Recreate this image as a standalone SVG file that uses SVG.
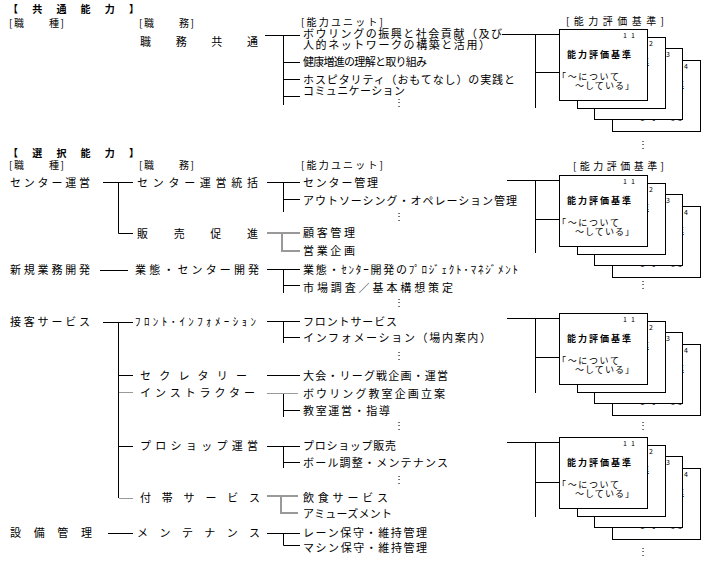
<svg xmlns="http://www.w3.org/2000/svg" xmlns:xlink="http://www.w3.org/1999/xlink" width="708" height="571" viewBox="0 0 708 571">
<style>
text{font-family:"Noto Sans CJK JP","Noto Sans CJK SC",sans-serif;font-size:11px;fill:#000}
.s{font-size:10px}
.h{font-size:10px;font-weight:bold}
.ct{font-size:9px}
.b{font-weight:bold}
.num{font-size:7px}
.dt{font-size:10px;text-anchor:middle}
.ln{stroke:#000;stroke-width:1;fill:none}
.g1{stroke:#999;stroke-width:1;fill:none}
.g2{stroke:#999;stroke-width:2;fill:none}
</style>
<defs>
<g id="card">
<rect x="0.5" y="0.5" width="88" height="71" fill="#fff" stroke="#000"/>
<text class="ct b" x="8" y="29" textLength="64">能力評価基準</text>
<text class="ct" x="-2" y="51" textLength="62">「～について</text>
<text class="ct" x="16" y="60" textLength="59">～している」</text>
</g>
</defs>
<rect width="708" height="571" fill="#fff"/>

<g id="headers">
<text class="h" x="8" y="13" textLength="131">【共通能力】</text>
<text class="s" x="9" y="27" textLength="55">[職　　種]</text>
<text class="s" x="139" y="27" textLength="55">[職　　務]</text>
<text class="s" x="301" y="26" textLength="82">[能力ユニット]</text>
<text class="s" x="566" y="25" textLength="98">[能力評価基準]</text>
<text class="h" x="8" y="157" textLength="131">【選択能力】</text>
<text class="s" x="9" y="169" textLength="55">[職　　種]</text>
<text class="s" x="139" y="169" textLength="55">[職　　務]</text>
<text class="s" x="301" y="169" textLength="82">[能力ユニット]</text>
<text class="s" x="573" y="170" textLength="91">[能力評価基準]</text>
</g>

<g id="connectors">
<path class="ln" d="M265 35.5H300M283.5 35.5V105M283.5 62.5H300M283.5 79.5H300M283.5 96.5H300"/>
<path class="ln" d="M502 34.5H559M535.5 34.5V108M535.5 72.5H559"/>
<path class="ln" d="M103 182.5H133M118.5 182.5V233.5H133"/>
<path class="ln" d="M267 182.5H300M283.5 182.5V212M283.5 199.5H300"/>
<path class="g2" d="M267 233H300M282 233V251H300"/>
<path class="ln" d="M507 180.5H559M535.5 180.5V253M535.5 219.5H559"/>
<path class="ln" d="M100 270.5H128"/>
<path class="ln" d="M267 269.5H300M283.5 269.5V293M283.5 285.5H300"/>
<path class="ln" d="M103 322.5H133M118.5 322.5V498M118.5 375.5H133M118.5 446.5H133"/>
<path class="g1" d="M119 392.5H133M119 498.5H133"/>
<path class="ln" d="M267 321.5H300M283.5 321.5V343M283.5 337.5H300"/>
<path class="ln" d="M507 318.5H559M535.5 318.5V393M535.5 357.5H559"/>
<path class="ln" d="M267 375.5H300"/>
<path class="g1" d="M267 393.5H298"/>
<path class="ln" d="M283.5 394V417M283.5 410.5H300"/>
<path class="ln" d="M267 446.5H300M283.5 446.5V468M283.5 462.5H300"/>
<path class="ln" d="M507 442.5H559M535.5 442.5V517M535.5 482.5H559"/>
<path class="g2" d="M267 496H298M281 496V513H298"/>
<path class="ln" d="M108 533.5H133"/>
<path class="ln" d="M267 533.5H300M283.5 533.5V545.5H300"/>
</g>

<g id="job-common">
<text x="140" y="46" textLength="118">職務共通</text>
</g>
<g id="units-common">
<text x="303" y="38" textLength="199">ボウリングの振興と社会貢献（及び</text>
<text x="303" y="49" textLength="187">人的ネットワークの構築と活用）</text>
<text x="303" y="66" textLength="124">健康増進の理解と取り組み</text>
<text x="303" y="84" textLength="212">ホスピタリティ（おもてなし）の実践と</text>
<text x="303" y="95" textLength="102">コミュニケーション</text>
<text class="dt" x="399" y="106">⋮</text>
</g>

<g id="type-center">
<text x="10" y="187" textLength="80">センター運営</text>
</g>
<g id="job-center-general">
<text x="137" y="187" textLength="121">センター運営統括</text>
</g>
<g id="units-center-general">
<text x="303" y="187" textLength="75">センター管理</text>
<text x="303" y="205" textLength="214">アウトソーシング・オペレーション管理</text>
<text class="dt" x="399" y="220">⋮</text>
</g>
<g id="job-sales">
<text x="137" y="238" textLength="121">販売促進</text>
</g>
<g id="units-sales">
<text x="303" y="237" textLength="52">顧客管理</text>
<text x="303" y="255" textLength="52">営業企画</text>
</g>

<g id="type-newbiz">
<text x="10" y="274" textLength="80">新規業務開発</text>
</g>
<g id="job-newbiz">
<text x="135" y="274" textLength="124">業態・センター開発</text>
</g>
<g id="units-newbiz">
<text x="303" y="274" textLength="215">業態・ｾﾝﾀｰ開発のﾌﾟﾛｼﾞｪｸﾄ･ﾏﾈｼﾞﾒﾝﾄ</text>
<text x="303" y="292" textLength="150">市場調査／基本構想策定</text>
<text class="dt" x="399" y="306">⋮</text>
</g>

<g id="type-service">
<text x="10" y="326" textLength="80">接客サービス</text>
</g>
<g id="job-front">
<text x="135" y="326" textLength="121">ﾌﾛﾝﾄ･ｲﾝﾌｫﾒｰｼｮﾝ</text>
</g>
<g id="units-front">
<text x="303" y="326" textLength="94">フロントサービス</text>
<text x="303" y="342" textLength="188">インフォメーション（場内案内）</text>
<text class="dt" x="399" y="359">⋮</text>
</g>
<g id="job-secretary">
<text x="140" y="380" textLength="107">セクレタリー</text>
</g>
<g id="units-secretary">
<text x="303" y="380" textLength="145">大会・リーグ戦企画・運営</text>
</g>
<g id="job-instructor">
<text x="140" y="397" textLength="115">インストラクター</text>
</g>
<g id="units-instructor">
<text x="303" y="398" textLength="142">ボウリング教室企画立案</text>
<text x="303" y="415" textLength="87">教室運営・指導</text>
<text class="dt" x="399" y="429">⋮</text>
</g>
<g id="job-proshop">
<text x="140" y="450" textLength="118">プロショップ運営</text>
</g>
<g id="units-proshop">
<text x="303" y="450" textLength="93">プロショップ販売</text>
<text x="303" y="467" textLength="145">ボール調整・メンテナンス</text>
<text class="dt" x="399" y="483">⋮</text>
</g>
<g id="job-incidental">
<text x="140" y="502" textLength="120">付帯サービス</text>
</g>
<g id="units-incidental">
<text x="303" y="502" textLength="85">飲食サービス</text>
<text x="303" y="518" textLength="89">アミューズメント</text>
</g>

<g id="type-facility">
<text x="10" y="537" textLength="82">設備管理</text>
</g>
<g id="job-maintenance">
<text x="137" y="537" textLength="123">メンテナンス</text>
</g>
<g id="units-maintenance">
<text x="303" y="537" textLength="124">レーン保守・維持管理</text>
<text x="303" y="552" textLength="124">マシン保守・維持管理</text>
</g>

<g id="cards-common">
<use xlink:href="#card" x="612" y="60"/><text class="num" x="676" y="69" textLength="12">1 4</text>
<use xlink:href="#card" x="594" y="48"/><text class="num" x="658" y="57" textLength="12">1 3</text>
<use xlink:href="#card" x="577" y="37"/><text class="num" x="641" y="46" textLength="12">1 2</text>
<use xlink:href="#card" x="559" y="29"/><text class="num" x="623" y="38" textLength="12">1 1</text>
<text class="dt" x="643" y="148">⋮</text>
</g>
<g id="cards-center">
<use xlink:href="#card" x="612" y="206"/><text class="num" x="676" y="215" textLength="12">1 4</text>
<use xlink:href="#card" x="594" y="194"/><text class="num" x="658" y="203" textLength="12">1 3</text>
<use xlink:href="#card" x="577" y="183"/><text class="num" x="641" y="192" textLength="12">1 2</text>
<use xlink:href="#card" x="559" y="175"/><text class="num" x="623" y="184" textLength="12">1 1</text>
<text class="dt" x="643" y="288">⋮</text>
</g>
<g id="cards-service">
<use xlink:href="#card" x="612" y="344"/><text class="num" x="676" y="353" textLength="12">1 4</text>
<use xlink:href="#card" x="594" y="332"/><text class="num" x="658" y="341" textLength="12">1 3</text>
<use xlink:href="#card" x="577" y="321"/><text class="num" x="641" y="330" textLength="12">1 2</text>
<use xlink:href="#card" x="559" y="313"/><text class="num" x="623" y="322" textLength="12">1 1</text>
<text class="dt" x="643" y="429">⋮</text>
</g>
<g id="cards-proshop">
<use xlink:href="#card" x="612" y="468"/><text class="num" x="676" y="477" textLength="12">1 4</text>
<use xlink:href="#card" x="594" y="456"/><text class="num" x="658" y="465" textLength="12">1 3</text>
<use xlink:href="#card" x="577" y="445"/><text class="num" x="641" y="454" textLength="12">1 2</text>
<use xlink:href="#card" x="559" y="437"/><text class="num" x="623" y="446" textLength="12">1 1</text>
<text class="dt" x="643" y="555">⋮</text>
</g>
</svg>
